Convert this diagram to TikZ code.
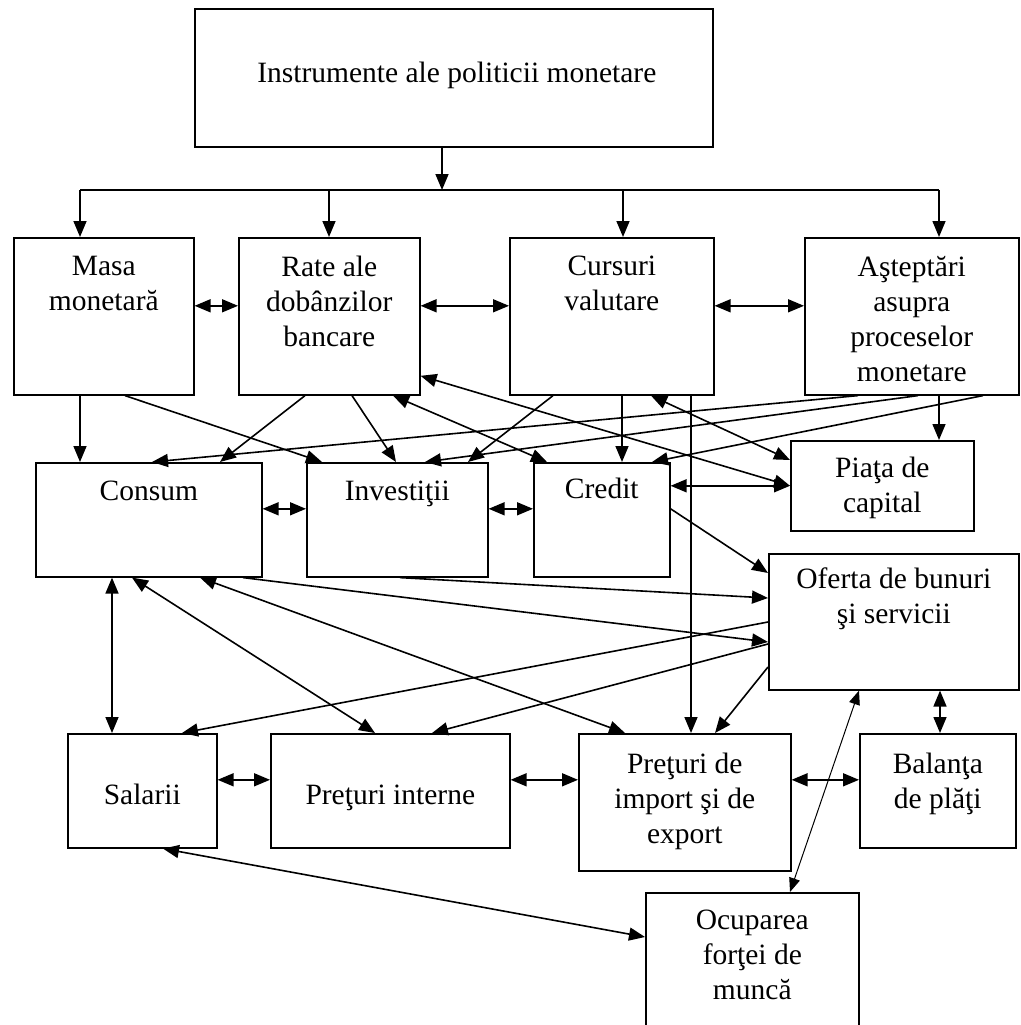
\documentclass[tikz,border=0pt]{standalone}
\usepackage{fontspec}
\setmainfont{Liberation Serif}
\usetikzlibrary{arrows.meta,positioning}

\begin{document}
\begin{tikzpicture}[
    x=1pt, y=-1pt,
    >={Triangle[length=16pt,width=13pt]},
    font=\fontsize{29.5}{35}\selectfont,
    cutie/.style={draw, line width=1.6pt, inner sep=0pt, anchor=north west},
    eticheta/.style={align=center, inner sep=0pt, anchor=north, execute at begin node=\strut},
    linie/.style={line width=1.6pt},
    sageata/.style={->, line width=1.6pt},
    dubla/.style={<->, line width=1.6pt},
    subtire/.style={<->, line width=1pt, >={Triangle[length=14pt,width=11pt]}}
]
    \useasboundingbox (0,0) rectangle (1020,1025);
    \clip (0,0) rectangle (1020,1025);

    % Nivelul 0 : instrumente
    \node[cutie, minimum width=518pt, minimum height=138pt] (instr) at (194,8) {};
    \node[eticheta, below=50pt of instr.north, xshift=3pt] (instr-t) {Instrumente ale politicii monetare};

    % Nivelul 1 : canale
    \node[cutie, minimum width=180pt, minimum height=157pt] (masa) at (13,237) {};
    \node[cutie, minimum width=181pt, minimum height=157pt] (rate) at (238,237) {};
    \node[cutie, minimum width=204pt, minimum height=157pt] (cursuri) at (509,237) {};
    \node[cutie, minimum width=214pt, minimum height=157pt] (astept) at (804,237) {};
    \node[eticheta, below=19pt of masa.north] (masa-t) {Masa\\monetară};
    \node[eticheta, below=19pt of rate.north] (rate-t) {Rate ale\\dobânzilor\\bancare};
    \node[eticheta, below=19pt of cursuri.north] (cursuri-t) {Cursuri\\valutare};
    \node[eticheta, below=19pt of astept.north] (astept-t) {Aşteptări\\asupra\\proceselor\\monetare};

    % Nivelul 2 : cerere
    \node[cutie, minimum width=226pt, minimum height=114pt] (consum) at (35,462) {};
    \node[cutie, minimum width=181pt, minimum height=114pt] (invest) at (306,462) {};
    \node[cutie, minimum width=136pt, minimum height=114pt] (credit) at (533,462) {};
    \node[cutie, minimum width=183pt, minimum height=90pt] (piata) at (790,440) {};
    \node[cutie, minimum width=250pt, minimum height=136pt] (oferta) at (768,553) {};
    \node[eticheta, below=14pt of consum.north] (consum-t) {Consum};
    \node[eticheta, below=14pt of invest.north] (invest-t) {Investiţii};
    \node[eticheta, below=12pt of credit.north] (credit-t) {Credit};
    \node[eticheta, below=16.5pt of piata.north] (piata-t) {Piaţa de\\capital};
    \node[eticheta, below=15pt of oferta.north] (oferta-t) {Oferta de bunuri\\şi servicii};

    % Nivelul 3 : preturi, venituri
    \node[cutie, minimum width=149pt, minimum height=114pt] (salarii) at (67,733) {};
    \node[cutie, minimum width=239pt, minimum height=114pt] (pinterne) at (270,733) {};
    \node[cutie, minimum width=212pt, minimum height=137pt] (pimport) at (578,733) {};
    \node[cutie, minimum width=156pt, minimum height=114pt] (balanta) at (859,733) {};
    \node[cutie, minimum width=213pt, minimum height=150pt] (ocupare) at (645,892) {};
    \node[eticheta, below=47pt of salarii.north] (salarii-t) {Salarii};
    \node[eticheta, below=47pt of pinterne.north] (pinterne-t) {Preţuri interne};
    \node[eticheta, below=20pt of pimport.north] (pimport-t) {Preţuri de\\import şi de\\export};
    \node[eticheta, below=20pt of balanta.north] (balanta-t) {Balanţa\\de plăţi};
    \node[eticheta, below=17.5pt of ocupare.north] (ocupare-t) {Ocuparea\\forţei de\\muncă};

    % Magistrala de sus
    \coordinate (bus) at (442,190);
    \coordinate (busA) at (80,190);
    \coordinate (busB) at (329,190);
    \coordinate (busC) at (623,190);
    \coordinate (busD) at (939,190);
    \draw[sageata] (bus |- instr.south) -- (bus);
    \draw[linie] (busA) -- (busD);
    \foreach \c/\b in {busA/masa, busB/rate, busC/cursuri, busD/astept}
        \draw[sageata] (\c) -- (\c |- \b.north);

    % Legaturi pe orizontala
    \foreach \a/\b in {masa/rate, rate/cursuri, cursuri/astept}
        \draw[dubla] ([yshift=10.5pt]\a.east) -- ([yshift=10.5pt]\b.west);
    \foreach \a/\b in {consum/invest, invest/credit, salarii/pinterne}
        \draw[dubla] ([yshift=11pt]\a.east) -- ([yshift=11pt]\b.west);
    \draw[dubla] (credit.east |- piata.west) -- (piata.west);
    \draw[dubla] ([yshift=11pt]pinterne.east) -- ([yshift=11pt]pinterne.east -| pimport.west);
    \draw[dubla] ([yshift=11pt]balanta.west -| pimport.east) -- ([yshift=11pt]balanta.west);

    % Canale -> cerere
    \draw[sageata] ([xshift=67pt]masa.south west) -- ([xshift=67pt]masa.south west |- consum.north);
    \draw[sageata] ([xshift=112pt]masa.south west) -- ([xshift=16pt]invest.north west);
    \draw[sageata] ([xshift=67pt]rate.south west) -- ([xshift=185pt]consum.north west);
    \draw[sageata] ([xshift=114pt]rate.south west) -- ([xshift=90pt]invest.north west);
    \draw[dubla] ([xshift=155pt]rate.south west) -- ([xshift=14pt]credit.north west);
    \draw[dubla] ([yshift=-59.5pt]rate.east) -- (piata.west);
    \draw[sageata] ([xshift=44pt]cursuri.south west) -- ([xshift=162pt]invest.north west);
    \draw[sageata] ([xshift=113pt]cursuri.south west) -- ([xshift=113pt]cursuri.south west |- credit.north);
    \draw[sageata] ([xshift=182pt]cursuri.south west) -- ([xshift=182pt]cursuri.south west |- pimport.north);
    \draw[dubla] ([xshift=142pt]cursuri.south west) -- ([yshift=-20pt]piata.north west);
    \draw[sageata] ([xshift=54pt]astept.south west) -- ([xshift=117pt]consum.north west);
    \draw[sageata] ([xshift=114pt]astept.south west) -- ([xshift=119pt]invest.north west);
    \draw[sageata] ([xshift=179pt]astept.south west) -- ([xshift=119pt]credit.north west);
    \draw[sageata] ([xshift=135pt]astept.south west) -- ([xshift=135pt]astept.south west |- piata.north);

    % Cerere -> oferta, preturi
    \draw[sageata] ([yshift=11pt]credit.east) -- ([yshift=-20pt]oferta.north west);
    \draw[dubla] ([xshift=77pt]consum.south west) -- ([xshift=77pt]consum.south west |- salarii.north);
    \draw[dubla] ([xshift=97pt]consum.south west) -- ([xshift=105pt]pinterne.north west);
    \draw[dubla] ([xshift=165pt]consum.south west) -- ([xshift=47pt]pimport.north west);
    \draw[sageata] ([xshift=208pt]consum.south west) -- ([yshift=-89pt]oferta.north west);
    \draw[sageata] ([xshift=94pt]invest.south west) -- ([yshift=-45pt]oferta.north west);
    \draw[sageata] ([yshift=-69pt]oferta.north west) -- ([xshift=115pt]salarii.north west);
    \draw[sageata] ([yshift=-91pt]oferta.north west) -- ([xshift=162pt]pinterne.north west);
    \draw[sageata] ([yshift=-114pt]oferta.north west) -- ([xshift=137pt]pimport.north west);
    \draw[dubla] ([xshift=172pt]oferta.south west) -- ([xshift=172pt]oferta.south west |- balanta.north);

    % Ocuparea fortei de munca
    \draw[subtire] ([xshift=145pt]ocupare.north west) -- ([xshift=91pt]oferta.south west);
    \draw[dubla] ([xshift=96pt]salarii.south west) -- ([yshift=-45pt]ocupare.north west);

\end{tikzpicture}
\end{document}
